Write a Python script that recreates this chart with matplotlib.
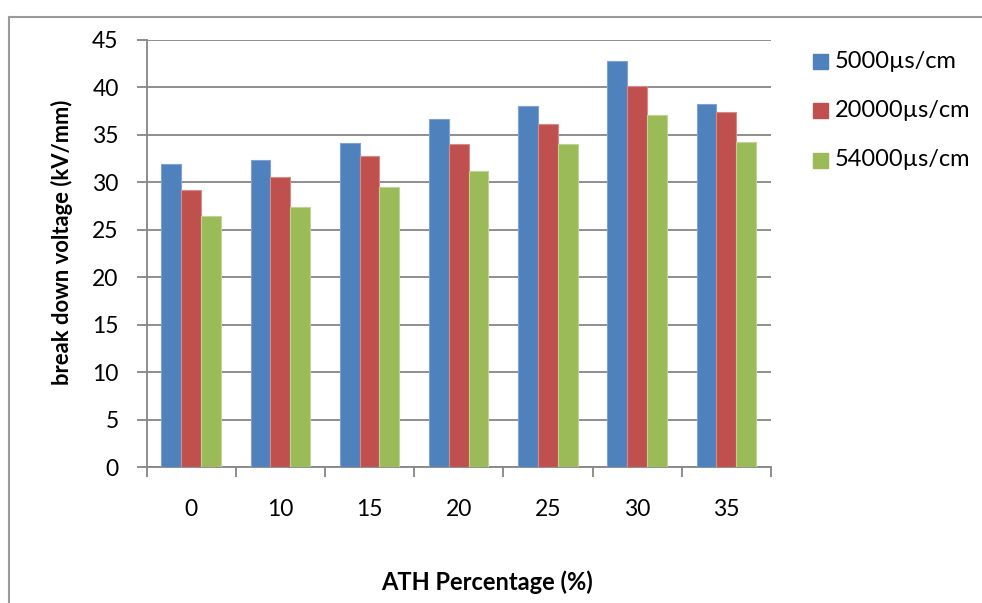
import matplotlib
matplotlib.use("Agg")
import matplotlib.pyplot as plt
import numpy as np
from matplotlib.lines import Line2D

plt.rcParams['font.family'] = ['Lato', 'DejaVu Sans']

categories = ["0", "10", "15", "20", "25", "30", "35"]
series_names = ["5000µs/cm", "20000µs/cm", "54000µs/cm"]
v_5000 = [31.9, 32.4, 34.1, 36.7, 38.0, 42.8, 38.3]
v_20000 = [29.2, 30.6, 32.8, 34.0, 36.2, 40.1, 37.4]
v_54000 = [26.5, 27.4, 29.5, 31.2, 34.0, 37.1, 34.2]
y_ticks = [0, 5, 10, 15, 20, 25, 30, 35, 40, 45]

colors = ["#4F81BD", "#C0504D", "#9BBB59"]
edges = ["#7FA3D0", "#D88A88", "#BDD494"]
axis_gray = "#868686"

W, H = 982, 603
fig = plt.figure(figsize=(W / 100, H / 100), dpi=100)
ax = fig.add_axes([146.5 / W, 1 - 467 / H, (771 - 146.5) / W, (467 - 40) / H])

n = len(categories)
x = np.arange(n)
bw = 1 / 4.5
for i, (vals, c, ec, name) in enumerate(zip([v_5000, v_20000, v_54000], colors, edges, series_names)):
    ax.bar(x + (i - 1) * bw, vals, width=bw, color=c, edgecolor=ec, linewidth=0.8,
           label=name, zorder=3)

ax.set_xlim(-0.5, n - 0.5)
ax.set_ylim(0, 45)
ax.set_yticks(y_ticks)
ax.set_yticklabels([str(t) for t in y_ticks])
ax.yaxis.grid(True, color=axis_gray, linewidth=1.3, zorder=0)
ax.set_axisbelow(True)

ax.set_xticks(x)
ax.set_xticklabels(categories)
ax.tick_params(axis='x', length=0, pad=23, labelsize=16.5)
ax.set_xticks(np.arange(n + 1) - 0.5, minor=True)
ax.tick_params(axis='x', which='minor', length=7, width=1.3, color=axis_gray, direction='out')
ax.tick_params(axis='y', length=7, width=1.3, color=axis_gray, labelsize=16.5, pad=13)

for s in ['top', 'right']:
    ax.spines[s].set_visible(False)
for s in ['left', 'bottom']:
    ax.spines[s].set_color(axis_gray)
    ax.spines[s].set_linewidth(1.3)

fig.text(62 / W, 1 - 242 / H, "break down voltage (kV/mm)", fontsize=15.8, fontweight='bold',
         rotation=90, ha='center', va='center')
fig.text(487 / W, 1 - 582 / H, "ATH Percentage (%)", fontsize=17, fontweight='bold',
         ha='center', va='center')

# legend entries on the right
for i, (name, c) in enumerate(zip(series_names, colors)):
    yc = 1 - (61 + 49.5 * i) / H
    fig.patches.append(plt.Rectangle((813 / W, yc - 7.5 / H), 15 / W, 15 / H,
                                     transform=fig.transFigure, color=c, figure=fig))
    fig.text(835 / W, yc, name, fontsize=17, ha='left', va='center')

# chart area border
fig.add_artist(Line2D([9 / W, 9 / W], [0, 1 - 17 / H], transform=fig.transFigure,
                      color="#9A9A9A", linewidth=1.5))
fig.add_artist(Line2D([9 / W, 1], [1 - 17 / H, 1 - 17 / H], transform=fig.transFigure,
                      color="#9A9A9A", linewidth=1.5))

fig.savefig("out.png", dpi=100)
